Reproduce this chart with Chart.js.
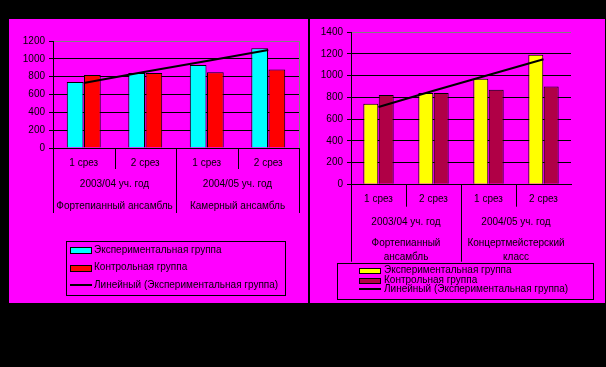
<!DOCTYPE html>
<html>
<head>
<meta charset="utf-8">
<script src="https://cdn.jsdelivr.net/npm/chart.js@4"></script>
<style>
  body { margin: 0; background: #000; width: 606px; height: 367px; overflow: hidden; position: relative; }
  .panel { position: absolute; top: 19px; height: 284px; background: #ff00ff; }
  #left { left: 9px; width: 299px; }
  #right { left: 310px; width: 295px; }
</style>
</head>
<body>
<div class="panel" id="left"><canvas id="leftChart" width="299" height="284"></canvas></div>
<div class="panel" id="right"><canvas id="rightChart" width="295" height="284"></canvas></div>
<script>
// categories (first level of the x axis)
const categories = ["1 срез", "2 срез", "1 срез", "2 срез"];
const years = ["2003/04 уч. год", "2004/05 уч. год"];

// left chart
const leftGroups = ["Фортепианный ансамбль", "Камерный ансамбль"];
const leftExperimental = [740, 840, 930, 1120];
const leftControl = [820, 840, 850, 880];
const leftTrend = [730, 855, 975, 1100];
const leftMax = 1200;

// right chart
const rightGroups = [["Фортепианный", "ансамбль"], ["Концертмейстерский", "класс"]];
const rightExperimental = [740, 840, 970, 1190];
const rightControl = [820, 840, 870, 900];
const rightTrend = [710, 860, 1005, 1150];
const rightMax = 1400;

const seriesNames = ["Экспериментальная группа", "Контрольная группа", "Линейный (Экспериментальная группа)"];
const yStep = 200;

Chart.defaults.font.family = '"Liberation Sans", Arial, sans-serif';
Chart.defaults.font.size = 10;
Chart.defaults.color = "#000";

// draws the 2nd/3rd level category labels, separators, plot border and the legend box
const decorPlugin = {
  id: "decor",
  afterDraw(chart, args, o) {
    const { ctx, chartArea: a, scales: { x } } = chart;
    const n = chart.data.labels.length;
    const edge = (i) => i === 0 ? a.left : i === n ? a.right : (x.getPixelForValue(i - 1) + x.getPixelForValue(i)) / 2;
    const px = (v) => Math.round(v) + 0.5;
    ctx.save();
    ctx.lineWidth = 1;
    ctx.strokeStyle = "#000";
    for (let i = 0; i <= n; i++) {
      if (o.skipLast && i === n) continue;
      const to = a.bottom + (i % 2 === 0 ? o.longTo : o.shortTo);
      ctx.beginPath();
      ctx.moveTo(px(edge(i)), a.bottom);
      ctx.lineTo(px(edge(i)), to);
      ctx.stroke();
    }
    if (o.rightBorder) {
      ctx.strokeStyle = "#808080";
      ctx.beginPath();
      ctx.moveTo(px(a.right), a.top);
      ctx.lineTo(px(a.right), a.bottom);
      ctx.stroke();
    }
    ctx.fillStyle = "#000";
    ctx.font = '10px "Liberation Sans", Arial, sans-serif';
    ctx.textAlign = "center";
    ctx.textBaseline = "middle";
    o.rows.forEach((row) => {
      row.labels.forEach((lab, g) => {
        const cx = (edge(g * 2) + edge(g * 2 + 2)) / 2;
        [].concat(lab).forEach((t, k) => ctx.fillText(t, cx, a.bottom + row.dy + k * 14.4));
      });
    });

    // legend
    const L = o.legend;
    ctx.strokeStyle = "#000";
    ctx.strokeRect(px(L.x), px(L.y), Math.round(L.w), Math.round(L.h));
    ctx.textAlign = "left";
    chart.data.datasets.forEach((ds, i) => {
      const y = L.rows[i];
      if (ds.type === "line") {
        ctx.fillStyle = "#000";
        ctx.fillRect(L.sx, Math.round(y) - 1, L.sw, 2);
      } else {
        ctx.fillStyle = ds.backgroundColor;
        ctx.fillRect(L.sx, Math.round(y - L.sh / 2), L.sw, L.sh);
        ctx.strokeRect(L.sx + 0.5, Math.round(y - L.sh / 2) + 0.5, L.sw - 1, L.sh);
      }
      ctx.fillStyle = "#000";
      ctx.fillText(ds.label, L.tx, y);
    });
    ctx.restore();
  }
};

function buildChart(id, cfg) {
  return new Chart(document.getElementById(id), {
    type: "bar",
    data: {
      labels: categories,
      datasets: [
        { label: seriesNames[0], data: cfg.exp, backgroundColor: cfg.colors[0], borderColor: "#000", borderWidth: 1, order: 1 },
        { label: seriesNames[1], data: cfg.ctrl, backgroundColor: cfg.colors[1], borderColor: "#000", borderWidth: 1, order: 1 },
        { type: "line", label: seriesNames[2], data: cfg.trend, borderColor: "#000", borderWidth: 2, pointRadius: 0, tension: 0, order: 0 }
      ]
    },
    options: {
      responsive: false,
      animation: false,
      categoryPercentage: 0.56,
      barPercentage: 0.97,
      layout: { padding: cfg.padding },
      plugins: {
        legend: { display: false },
        tooltip: { enabled: false },
        decor: cfg.decor
      },
      scales: {
        x: {
          ticks: { padding: 9, maxRotation: 0 },
          grid: { drawOnChartArea: false, drawTicks: false },
          border: { color: "#000" },
          afterFit: (s) => { s.height = cfg.xHeight; }
        },
        y: {
          min: 0,
          max: cfg.max,
          ticks: { stepSize: yStep, padding: 4, callback: (v) => String(v) },
          grid: {
            color: (c) => c.tick && c.tick.value === cfg.max ? "#808080" : "#000",
            tickColor: "#000",
            tickLength: 4
          },
          border: { color: "#000" },
          afterFit: (s) => { s.width = 40; }
        }
      }
    },
    plugins: [decorPlugin]
  });
}

buildChart("leftChart", {
  exp: leftExperimental,
  ctrl: leftControl,
  trend: leftTrend,
  max: leftMax,
  colors: ["#00ffff", "#ff0000"],
  padding: { left: 4, top: 22, right: 9, bottom: 0 },
  xHeight: 155,
  decor: {
    shortTo: 21, longTo: 65, skipLast: false, rightBorder: true,
    rows: [{ dy: 36, labels: years }, { dy: 58.5, labels: leftGroups }],
    legend: { x: 57, y: 222, w: 219, h: 54, sx: 61, sw: 22, sh: 6, tx: 85, rows: [231.3, 248.7, 266.3] }
  }
});

buildChart("rightChart", {
  exp: rightExperimental,
  ctrl: rightControl,
  trend: rightTrend,
  max: rightMax,
  colors: ["#ffff00", "#b00046"],
  padding: { left: 1, top: 13, right: 34, bottom: 0 },
  xHeight: 118.7,
  decor: {
    shortTo: 22.4, longTo: 77.4, skipLast: true, rightBorder: false,
    rows: [{ dy: 38, labels: years }, { dy: 59, labels: rightGroups }],
    legend: { x: 27, y: 244, w: 256, h: 36, sx: 49, sw: 22, sh: 5, tx: 74, rows: [251.7, 261.3, 270.3] }
  }
});
</script>
</body>
</html>
